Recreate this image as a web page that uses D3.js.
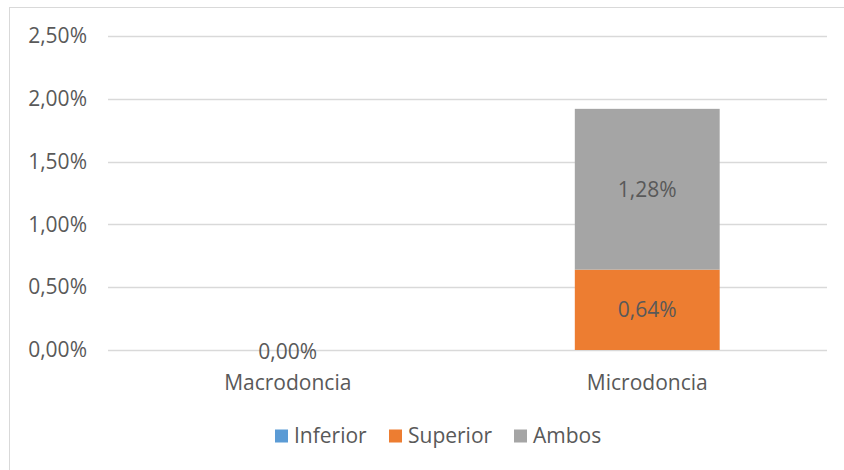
<!DOCTYPE html>
<html>
<head>
<meta charset="utf-8">
<script src="https://cdn.jsdelivr.net/npm/d3@7"></script>
<style>
  body { margin: 0; background: #fff; }
  text { font-family: "Open Sans", sans-serif; fill: #595959; }
</style>
</head>
<body>
<div id="chart"></div>
<script>
// data (percent values)
var categories = ["Macrodoncia", "Microdoncia"];
var seriesNames = ["Inferior", "Superior", "Ambos"];
var inferior = [0, 0];
var superior = [0, 0.64];
var ambos = [0, 1.28];
var yTicks = [0, 0.5, 1, 1.5, 2, 2.5];
var colors = ["#5b9bd5", "#ed7d31", "#a5a5a5"];

var fullWidth = 844, fullHeight = 470;
var margin = {top: 36, right: 17, bottom: 120, left: 108},
    width = fullWidth - margin.left - margin.right,
    height = fullHeight - margin.top - margin.bottom;

var fmt = function(v) { return v.toFixed(2).replace(".", ",") + "%"; };

var table = categories.map(function(c, i) {
  return {cat: c, Inferior: inferior[i], Superior: superior[i], Ambos: ambos[i]};
});

var stack = d3.stack().keys(seriesNames);
var layers = stack(table);

var svg = d3.select("#chart").append("svg")
    .attr("width", fullWidth)
    .attr("height", fullHeight);

// chart border
svg.append("rect")
    .attr("x", 9.5).attr("y", 7.5)
    .attr("width", fullWidth).attr("height", fullHeight)
    .attr("fill", "none")
    .attr("stroke", "#d9d9d9")
    .attr("stroke-width", 1);

var g = svg.append("g")
    .attr("transform", "translate(" + margin.left + "," + margin.top + ")");

var xScale = d3.scaleBand()
    .domain(categories)
    .range([0, width])
    .paddingInner(0.597)
    .paddingOuter(0.2985);

var yScale = d3.scaleLinear()
    .domain([0, 2.5])
    .range([height, 0]);

// gridlines
g.append("g")
    .selectAll("line")
    .data(yTicks)
    .enter().append("line")
    .attr("x1", 0).attr("x2", width)
    .attr("y1", function(d) { return Math.round(yScale(d)) + 0.5; })
    .attr("y2", function(d) { return Math.round(yScale(d)) + 0.5; })
    .attr("stroke", "#d9d9d9")
    .attr("stroke-width", 1.5);

// y axis labels
var yAxis = d3.axisLeft(yScale).tickValues(yTicks).tickFormat(fmt).tickSize(0).tickPadding(21);
g.append("g")
    .attr("class", "y axis")
    .call(yAxis)
    .call(function(a) { a.select(".domain").remove(); })
    .selectAll("text")
    .style("font-size", "21px")
    .attr("fill", "#595959");

// x axis labels
var xAxis = d3.axisBottom(xScale).tickSize(0).tickPadding(25);
g.append("g")
    .attr("class", "x axis")
    .attr("transform", "translate(0," + height + ")")
    .call(xAxis)
    .call(function(a) { a.select(".domain").remove(); })
    .selectAll("text")
    .style("font-size", "21px")
    .attr("fill", "#595959");

// bars
var series = g.selectAll(".series")
    .data(layers)
    .enter().append("g")
    .attr("class", "series")
    .attr("fill", function(d, i) { return colors[i]; });

series.selectAll("rect")
    .data(function(d) { return d; })
    .enter().append("rect")
    .attr("x", function(d) { return xScale(d.data.cat); })
    .attr("width", xScale.bandwidth())
    .attr("y", function(d) { return yScale(d[1]); })
    .attr("height", function(d) { return yScale(d[0]) - yScale(d[1]); });

// data labels: nonzero segments, plus single 0,00% for the empty category
var labels = [];
layers.forEach(function(layer) {
  layer.forEach(function(d) {
    var v = d[1] - d[0];
    if (v > 0) labels.push({cat: d.data.cat, mid: (d[0] + d[1]) / 2, v: v});
  });
});
table.forEach(function(row) {
  var total = seriesNames.reduce(function(s, k) { return s + row[k]; }, 0);
  if (total === 0) labels.push({cat: row.cat, mid: 0, v: 0});
});

g.append("g").selectAll("text")
    .data(labels)
    .enter().append("text")
    .attr("x", function(d) { return xScale(d.cat) + xScale.bandwidth() / 2; })
    .attr("y", function(d) { return yScale(d.mid) + (d.v === 0 ? 2 : 0); })
    .attr("dy", "0.35em")
    .attr("text-anchor", "middle")
    .style("font-size", "21px")
    .attr("fill", "#404040")
    .text(function(d) { return fmt(d.v); });

// legend
var legendX = [275, 389, 514];
var legend = svg.append("g")
    .selectAll("g")
    .data(seriesNames)
    .enter().append("g")
    .attr("transform", function(d, i) { return "translate(" + legendX[i] + ",436)"; });

legend.append("rect")
    .attr("x", 0).attr("y", -6.5)
    .attr("width", 13).attr("height", 13)
    .attr("fill", function(d, i) { return colors[i]; });

legend.append("text")
    .attr("x", 19)
    .attr("dy", "0.35em")
    .style("font-size", "21px")
    .attr("fill", "#595959")
    .text(function(d) { return d; });
</script>
</body>
</html>
